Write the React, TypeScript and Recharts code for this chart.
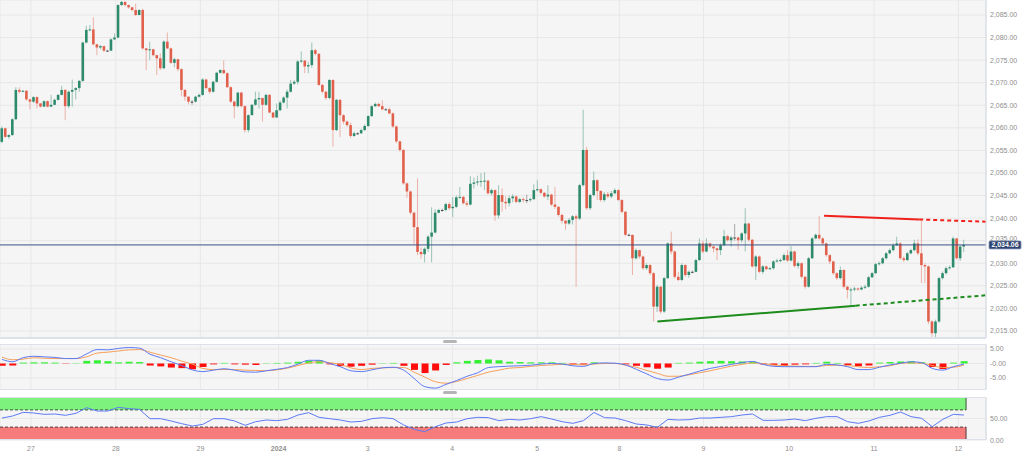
import {
  Bar,
  CartesianGrid,
  Cell,
  ComposedChart,
  Line,
  ReferenceArea,
  ReferenceLine,
  XAxis,
  YAxis,
} from 'recharts';

// hourly gold candles, 26 Dec 2023 -> 12 Jan 2024 (open of each bar = previous close)
const firstOpen = 2056.9;
const closes = [
  2059.9, 2058.0, 2058.4, 2061.9, 2068.4, 2068.0, 2068.2, 2066.3, 2065.8, 2066.8,
  2065.4, 2064.7, 2065.9, 2064.7, 2065.1, 2066.2, 2067.3, 2068.4, 2064.8, 2068.0,
  2068.4, 2068.8, 2070.4, 2078.9, 2081.7, 2081.8, 2078.5, 2077.8, 2078.1, 2077.1,
  2077.1, 2079.6, 2080.0, 2087.2, 2087.9, 2087.2, 2086.7, 2086.1, 2085.0, 2086.1,
  2077.6, 2077.2, 2077.4, 2076.1, 2075.4, 2073.2, 2079.1, 2077.6, 2074.4, 2075.2,
  2073.0, 2068.4, 2066.9, 2065.8, 2065.8, 2066.9, 2067.3, 2070.7, 2068.8, 2068.0,
  2070.2, 2072.2, 2072.8, 2072.1, 2069.0, 2065.8, 2064.8, 2067.8, 2064.8, 2059.5,
  2062.8, 2065.1, 2066.3, 2066.6, 2065.1, 2067.3, 2063.4, 2062.3, 2063.9, 2065.6,
  2066.7, 2068.0, 2069.8, 2070.2, 2074.7, 2074.9, 2073.6, 2073.9, 2077.2, 2076.4,
  2069.5, 2068.0, 2066.6, 2070.6, 2059.5, 2066.2, 2062.8, 2061.4, 2060.6, 2058.2,
  2058.8, 2058.8, 2059.5, 2060.4, 2062.6, 2064.8, 2065.3, 2064.8, 2064.1, 2064.1,
  2063.2, 2060.3, 2057.0, 2055.1, 2047.7, 2045.9, 2041.2, 2038.0, 2032.5, 2032.0,
  2033.2, 2035.9, 2036.8, 2041.2, 2041.8, 2041.8, 2043.1, 2042.2, 2042.5, 2044.6,
  2044.7, 2043.3, 2043.0, 2047.6, 2047.9, 2048.1, 2048.2, 2048.3, 2045.5, 2046.2,
  2040.6, 2045.1, 2043.6, 2043.3, 2044.4, 2044.8, 2043.6, 2044.2, 2044.0, 2044.0,
  2044.2, 2046.2, 2046.4, 2045.6, 2044.8, 2045.2, 2043.0, 2042.5, 2040.7, 2039.4,
  2038.8, 2039.6, 2040.4, 2039.9, 2047.3, 2055.1, 2042.2, 2045.1, 2048.4, 2046.0,
  2044.0, 2045.3, 2044.8, 2045.5, 2046.2, 2044.0, 2041.4, 2036.3, 2036.3, 2031.1,
  2032.9, 2031.5, 2028.9, 2029.6, 2027.8, 2020.4, 2024.8, 2019.3, 2026.7, 2034.4,
  2032.6, 2027.0, 2026.3, 2029.6, 2027.4, 2028.1, 2028.1, 2030.7, 2034.4, 2032.6,
  2034.4, 2033.7, 2033.3, 2032.9, 2034.0, 2036.0, 2035.1, 2035.7, 2035.7, 2035.1,
  2036.6, 2038.8, 2035.2, 2029.3, 2031.5, 2028.1, 2029.3, 2028.7, 2028.9, 2030.4,
  2030.6, 2030.7, 2031.8, 2030.6, 2032.6, 2029.4, 2030.0, 2027.0, 2024.8, 2031.1,
  2035.5, 2036.3, 2035.5, 2034.4, 2031.8, 2030.4, 2027.8, 2026.7, 2028.5, 2024.8,
  2024.1, 2024.2, 2024.4, 2024.2, 2024.6, 2024.8, 2026.9, 2027.8, 2029.8, 2030.0,
  2031.1, 2032.2, 2032.9, 2034.0, 2034.4, 2031.1, 2030.7, 2032.2, 2032.9, 2034.4,
  2032.2, 2029.6, 2029.3, 2017.1, 2014.5, 2017.1, 2026.7, 2027.8, 2028.9, 2029.1,
  2035.5, 2031.1, 2033.7, 2034.06,
];
const highs = [
  2060.3, 2060.0, 2058.6, 2062.1, 2069.0, 2069.0, 2068.4, 2068.4, 2066.4, 2067.0,
  2067.0, 2065.5, 2066.1, 2066.1, 2067.3, 2066.5, 2067.5, 2069.3, 2068.6, 2068.3,
  2070.7, 2069.0, 2070.6, 2079.1, 2082.6, 2082.8, 2084.5, 2078.6, 2078.4, 2078.2,
  2077.3, 2079.8, 2080.9, 2087.4, 2088.1, 2088.0, 2087.3, 2086.8, 2087.5, 2086.3,
  2086.4, 2077.7, 2079.1, 2077.5, 2076.2, 2076.5, 2079.4, 2081.1, 2077.8, 2075.5,
  2075.3, 2073.2, 2068.6, 2067.0, 2066.2, 2067.1, 2067.6, 2071.0, 2070.9, 2069.0,
  2070.4, 2072.4, 2073.0, 2074.9, 2072.3, 2069.2, 2066.0, 2068.0, 2068.0, 2065.0,
  2063.0, 2065.3, 2068.0, 2068.0, 2066.7, 2067.6, 2067.5, 2062.6, 2065.4, 2066.0,
  2067.0, 2068.5, 2070.6, 2070.6, 2075.0, 2076.9, 2075.0, 2074.6, 2078.9, 2077.5,
  2076.6, 2069.7, 2068.2, 2070.8, 2070.8, 2066.4, 2066.4, 2063.0, 2061.6, 2061.2,
  2059.2, 2059.0, 2059.8, 2060.8, 2062.8, 2065.0, 2065.6, 2065.6, 2066.1, 2064.4,
  2064.5, 2063.4, 2060.5, 2057.2, 2055.3, 2047.9, 2046.1, 2041.4, 2048.8, 2033.5,
  2033.5, 2036.2, 2042.4, 2042.0, 2042.1, 2042.1, 2043.4, 2043.5, 2044.7, 2045.0,
  2046.9, 2044.9, 2043.8, 2049.3, 2049.0, 2049.4, 2050.0, 2050.2, 2048.4, 2046.5,
  2046.4, 2047.3, 2046.6, 2044.8, 2045.0, 2045.3, 2045.0, 2044.5, 2044.6, 2045.2,
  2044.5, 2047.5, 2048.4, 2046.6, 2045.8, 2047.3, 2045.4, 2046.9, 2042.7, 2041.0,
  2039.6, 2040.0, 2040.7, 2040.8, 2047.6, 2064.0, 2055.8, 2045.4, 2050.3, 2048.6,
  2046.2, 2045.8, 2045.8, 2046.0, 2046.6, 2046.4, 2044.2, 2041.6, 2036.6, 2036.0,
  2033.3, 2033.0, 2031.7, 2030.0, 2029.8, 2028.0, 2025.2, 2025.0, 2027.0, 2034.6,
  2037.0, 2032.8, 2028.1, 2030.0, 2029.8, 2028.4, 2028.4, 2031.0, 2035.5, 2035.0,
  2035.5, 2034.6, 2033.9, 2033.5, 2034.4, 2037.4, 2036.3, 2036.0, 2038.7, 2035.9,
  2036.9, 2042.2, 2039.0, 2035.4, 2031.8, 2031.7, 2029.6, 2029.5, 2029.2, 2030.7,
  2031.0, 2031.1, 2032.2, 2032.9, 2033.8, 2032.8, 2030.4, 2030.2, 2027.2, 2031.4,
  2035.8, 2036.6, 2040.5, 2035.7, 2034.6, 2032.0, 2030.6, 2028.0, 2029.3, 2028.7,
  2025.0, 2024.6, 2024.8, 2024.6, 2024.9, 2025.2, 2027.2, 2028.1, 2030.1, 2030.4,
  2031.4, 2032.5, 2033.3, 2034.4, 2035.9, 2034.6, 2031.5, 2032.5, 2033.2, 2035.2,
  2035.3, 2039.7, 2030.0, 2029.5, 2017.3, 2017.5, 2027.0, 2028.2, 2029.3, 2029.5,
  2035.9, 2035.6, 2034.0, 2035.2,
];
const lows = [
  2056.6, 2057.8, 2057.6, 2058.2, 2061.7, 2067.6, 2067.9, 2066.0, 2064.1, 2065.5,
  2064.3, 2064.5, 2064.6, 2064.5, 2064.6, 2065.0, 2066.0, 2067.2, 2061.7, 2064.3,
  2064.7, 2066.3, 2068.0, 2070.2, 2078.7, 2081.4, 2078.3, 2076.1, 2077.4, 2076.8,
  2076.9, 2077.0, 2079.4, 2079.8, 2087.0, 2086.9, 2086.4, 2085.8, 2084.8, 2084.9,
  2077.3, 2072.8, 2075.0, 2075.8, 2071.7, 2072.8, 2073.0, 2077.4, 2074.2, 2073.4,
  2072.5, 2067.0, 2066.0, 2065.2, 2065.1, 2065.6, 2066.7, 2067.1, 2068.5, 2067.5,
  2067.8, 2070.0, 2072.0, 2071.9, 2068.8, 2065.5, 2062.1, 2064.5, 2064.5, 2058.9,
  2059.0, 2062.8, 2064.9, 2064.3, 2061.4, 2064.9, 2063.2, 2062.1, 2062.2, 2063.7,
  2065.4, 2064.3, 2067.8, 2069.5, 2069.6, 2074.4, 2072.1, 2072.1, 2073.3, 2076.0,
  2069.3, 2067.6, 2066.2, 2066.3, 2055.8, 2059.3, 2058.0, 2060.8, 2060.2, 2057.8,
  2058.0, 2058.4, 2058.6, 2059.3, 2060.2, 2062.4, 2064.6, 2064.6, 2063.9, 2063.9,
  2063.0, 2060.0, 2056.6, 2054.7, 2047.4, 2044.5, 2040.8, 2034.2, 2031.8, 2031.0,
  2030.2, 2032.5, 2030.2, 2036.6, 2041.0, 2041.4, 2041.5, 2041.8, 2040.2, 2042.2,
  2044.3, 2043.0, 2042.6, 2042.8, 2046.6, 2047.2, 2046.9, 2046.2, 2045.2, 2045.0,
  2039.4, 2039.9, 2041.4, 2042.0, 2042.6, 2043.5, 2043.3, 2043.3, 2043.5, 2043.3,
  2043.6, 2044.0, 2045.9, 2045.3, 2044.5, 2044.0, 2042.7, 2042.0, 2040.3, 2038.8,
  2037.4, 2038.5, 2038.6, 2024.8, 2039.6, 2047.0, 2041.8, 2041.8, 2044.8, 2044.0,
  2043.6, 2043.6, 2044.4, 2044.4, 2045.3, 2043.8, 2041.0, 2036.0, 2036.0, 2027.4,
  2030.8, 2031.0, 2028.5, 2028.5, 2027.4, 2017.1, 2019.2, 2018.8, 2019.0, 2026.5,
  2032.0, 2026.6, 2026.0, 2026.0, 2027.0, 2026.8, 2027.8, 2028.0, 2030.5, 2032.2,
  2032.4, 2033.3, 2032.4, 2030.7, 2031.8, 2033.8, 2034.8, 2033.7, 2035.0, 2033.0,
  2034.6, 2032.6, 2034.8, 2029.0, 2026.3, 2027.8, 2027.6, 2028.4, 2028.5, 2028.6,
  2030.2, 2030.2, 2030.5, 2030.3, 2030.4, 2029.0, 2028.8, 2026.6, 2024.4, 2024.6,
  2031.0, 2035.3, 2035.2, 2034.0, 2031.4, 2029.8, 2027.4, 2026.3, 2026.4, 2024.4,
  2022.2, 2020.7, 2023.8, 2023.9, 2024.0, 2024.3, 2024.6, 2026.7, 2027.6, 2029.5,
  2029.8, 2030.8, 2032.0, 2032.6, 2033.8, 2030.8, 2030.3, 2030.5, 2032.0, 2032.6,
  2031.8, 2025.6, 2025.6, 2016.5, 2013.7, 2013.5, 2016.8, 2026.4, 2027.5, 2028.6,
  2029.0, 2030.8, 2030.5, 2032.5,
];

// day boundaries (in candle units) and their labels
const dayStarts = [8.2, 32.3, 56.3, 78.5, 103.8, 127.8, 151.9, 175.2, 199.1, 223.4, 247.5, 271.4];
const dayLabels = ['27', '28', '29', '2024', '3', '4', '5', '8', '9', '10', '11', '12'];

const priceTicks = [2015, 2020, 2025, 2030, 2035, 2040, 2045, 2050, 2055, 2060, 2065, 2070, 2075, 2080, 2085];
const lastPrice = 2034.06;

// hand-drawn trend lines: solid part, then dotted projection
const supportX = [186, 242.3, 279.2];
const supportY = [2017.1, 2020.6, 2022.9];
const resistX = [233.3, 260.3, 279.2];
const resistY = [2040.5, 2039.7, 2039.2];

// indicators, one reading every 3rd candle
const IND_STEP = 3;
const macdLine = [
  1.4, 0.6, 2.0, 2.5, 2.3, 2.1, 1.7, 1.7, 3.3, 4.8, 4.7, 5.2, 5.5, 5.3, 3.2, 2.0, 0.6, -0.7, -2.2, -2.8,
  -2.3, -1.8, -2.3, -2.9, -3.0, -2.5, -2.0, -1.4, -0.2, 1.1, 1.1, 0, -1.1,
  -2.5, -2.8, -2.2, -1.5, -1.3, -2.3, -5.2, -8.0, -8.5, -7.2, -5.9, -4.4, -3.2, -1.4, -1.1, -0.9, -0.8,
  -0.6, -0.2, 0, -0.2, -0.8, -1.0, 0, 0.2, 0.1, -0.5, -2.0, -3.6, -5.2, -5.7,
  -4.7, -3.7, -2.6, -1.7, -1.0, -0.3, 0.3, 0.7, -0.3, -1.0, -1.1, -1.1, -1.1, -1.1, -0.3, -0.5,
  -1.1, -2.1, -2.1, -1.3, -0.5, 0.1, 0.6, 0.3, -1.7, -2.3, -1.1, -0.2,
];
const signalLine = [
  2.2, 1.3, 1.5, 2.0, 1.8, 1.7, 1.7, 1.7, 2.3, 3.6, 3.9, 4.3, 4.7, 4.8, 3.9, 2.9, 2.0, 0.8, -0.2, -1.7,
  -2.1, -2.1, -2.1, -2.3, -2.4, -2.5, -2.2, -1.6, -0.7, 0.2, 0.6, 0.3, -0.3,
  -1.5, -2.1, -1.7, -1.5, -1.4, -1.4, -3.0, -4.7, -6.3, -6.8, -6.2, -5.2, -4.1, -3.0, -2.3, -1.6, -1.4,
  -1.0, -0.7, -0.5, -0.3, -0.3, -0.5, -0.2, 0, 0, -0.6, -1.3, -2.4, -3.4, -4.4,
  -4.4, -3.9, -3.2, -2.5, -1.7, -0.9, -0.3, 0.2, -0.1, -0.5, -0.8, -0.9, -1.0, -1.0, -0.7, -0.6,
  -0.7, -1.1, -1.4, -1.1, -0.8, 0, 0.2, 0.1, -0.7, -1.4, -1.3, -0.6,
];
const histogram = [
  -0.8, -0.7, 0.3, 0.4, 0.4, 0.3, -0.1, 0.1, 0.9, 1.1, 0.8, 0.4, 0.6, 0.5, -0.7, -1.0, -1.4, -1.6, -2.0, -1.2,
  -0.3, 0.2, -0.3, -0.4, -0.5, 0.1, 0.2, 0.3, 0.6, 0.9, 1.1, -0.3, -0.9,
  -1.1, -0.8, -0.4, 0.1, 0.2, -0.8, -2.2, -3.3, -2.4, -0.5, 0.4, 0.9, 1.2, 1.4, 1.1, 0.6, 0.5,
  0.4, 0.4, 0.4, 0.2, -0.4, -0.4, 0.4, 0.2, 0.1, -0.3, -0.8, -1.3, -1.8, -1.4,
  0.2, 0.3, 0.6, 0.8, 0.9, 0.8, 0.7, 0.6, -0.3, -0.6, -0.8, -0.4, -0.3, 0.2, 0.6, 0.2,
  -0.5, -0.9, -0.7, 0.3, 0.5, 0.7, 0.8, 0.4, -1.2, -1.9, 0.3, 0.8,
];
const rsiLine = [
  51.1, 55.8, 64.3, 62.8, 59.7, 60.5, 57.4, 62, 75.2, 67.4, 67.4, 76, 72.9, 71.3, 49.6, 49.6, 44.2, 38, 32.5, 36.4,
  49.6, 49.6, 44.2, 34.1, 42.6, 46.5, 45, 48, 58.1, 63.6, 52.7, 49.6, 46.5,
  41.8, 43.4, 49.6, 51.9, 49.6, 34.9, 24.8, 19.4, 31, 39.5, 41.8, 49.6, 52.7, 52, 45, 48, 46.5,
  49.6, 54.3, 48.8, 42.6, 38.7, 45, 64, 52, 51.1, 45, 37.2, 34.9, 29.4, 48,
  46.5, 47.3, 51.1, 51.1, 52.7, 54.3, 58.1, 60.5, 45.7, 45.7, 46.5, 48.8, 45, 50.4, 54.3, 54.3,
  42.6, 38.7, 44.2, 52.7, 57.4, 65.1, 54.3, 50.4, 31, 48, 59.7, 58.1,
];

const macdTicks = [5, 0, -5];
const macdTickLabels = ['5.00', '-0.00', '-5.00'];
const rsiTicks = [50, 0];
const rsiTickLabels = ['50.00', '0.00'];

const W = 1024;
const PLOT_W = 986;
const AXIS_W = W - PLOT_W;
const X_DOMAIN: [number, number] = [-0.57, 279.26];
const FONT = "'Liberation Sans', Arial, sans-serif";

const UP = '#2d8a6c';
const DOWN = '#e1604c';
const BG = '#f5f5f5';
const GRID = '#e7e7e7';
const BORDER = '#dde2ea';

const candles = closes.map((c, i) => {
  const o = i === 0 ? firstOpen : closes[i - 1];
  return { i, o, c, range: [Math.min(lows[i], o, c), Math.max(highs[i], o, c)] };
});

const indicators = macdLine.map((m, k) => ({
  i: k * IND_STEP,
  macd: m,
  signal: signalLine[k],
  hist: histogram[k],
  rsi: rsiLine[k],
}));

const lastIndex = candles.length - 1;

const fmtPrice = (v: number) =>
  v.toLocaleString('en-US', { minimumFractionDigits: 2, maximumFractionDigits: 2 });

function CandleShape(props: any) {
  const { x, y, width, height, payload } = props;
  if (!payload) return null;
  const top = Math.min(y, y + height);
  const span = Math.abs(height);
  const [lo, hi] = payload.range;
  const ppu = hi > lo ? span / (hi - lo) : 0;
  const yO = top + (hi - payload.o) * ppu;
  const yC = top + (hi - payload.c) * ppu;
  const flat = Math.abs(payload.c - payload.o) < 0.05;
  const up = payload.c >= payload.o;
  const body = flat ? '#4a4a4a' : up ? UP : DOWN;
  const cx = x + width / 2;
  return (
    <g>
      <line x1={cx} x2={cx} y1={top} y2={top + span} stroke={body} strokeOpacity={0.45} strokeWidth={1} />
      <rect x={cx - 1.3} y={Math.min(yO, yC)} width={2.6} height={Math.max(Math.abs(yC - yO), 1)} fill={body} />
    </g>
  );
}

function ValueTick(props: any) {
  const { x, y, payload, ticks, labels } = props;
  const text = labels ? labels[ticks.indexOf(payload.value)] : fmtPrice(payload.value);
  // the live price tag sits over this level, as in the original
  if (!labels && payload.value === 2035) {
    return (
      <text x={x} y={y - 2} dy={2.5} fontSize={7} fill="#8e8e8e" fontFamily={FONT}>
        {text}
      </text>
    );
  }
  return (
    <text x={x} y={y} dy={2.5} fontSize={7} fill="#8e8e8e" fontFamily={FONT}>
      {text}
    </text>
  );
}

function DayTick(props: any) {
  const { x, y, payload } = props;
  const label = dayLabels[dayStarts.indexOf(payload.value)];
  return (
    <text
      x={x}
      y={y}
      dy={11}
      textAnchor="middle"
      fontSize={7}
      fill="#8e8e8e"
      fontWeight={label === '2024' ? 'bold' : 'normal'}
      fontFamily={FONT}
    >
      {label}
    </text>
  );
}

function PriceTag(props: any) {
  const vb = props.viewBox;
  if (!vb) return null;
  const x = vb.x + vb.width + 3;
  return (
    <g>
      <rect x={x} y={vb.y - 4} width={32} height={8} fill="#2f4470" stroke="#8193b8" strokeWidth={0.8} rx={1} />
      <text x={x + 16} y={vb.y} dy={2.5} textAnchor="middle" fontSize={7} fontWeight="bold" fill="#fff" fontFamily={FONT}>
        {fmtPrice(lastPrice)}
      </text>
    </g>
  );
}

function rightAxis(domain: [number, number], ticks: number[], labels?: string[]) {
  return (
    <YAxis
      orientation="right"
      width={AXIS_W}
      domain={domain}
      ticks={ticks}
      allowDataOverflow
      interval={0}
      axisLine={{ stroke: '#d3d9e3' }}
      tickLine={false}
      tickSize={2}
      tickMargin={2}
      tick={(p: any) => <ValueTick {...p} ticks={ticks} labels={labels} />}
    />
  );
}

const border = (top: number, height: number) => (
  <div
    style={{
      position: 'absolute',
      left: 0,
      top,
      width: PLOT_W,
      height,
      borderTop: `1px solid ${BORDER}`,
      borderBottom: `1px solid ${BORDER}`,
      boxSizing: 'border-box',
      pointerEvents: 'none',
    }}
  />
);

const handle = (top: number) => (
  <div style={{ position: 'absolute', left: 443, top, width: 14, height: 3, background: '#b5b5b5', borderRadius: 1.5 }} />
);

export default function App() {
  const zero = { top: 0, right: 0, bottom: 0, left: 0 };
  return (
    <div style={{ position: 'absolute', left: 0, top: 0, width: W, height: 453, background: '#fff', fontFamily: FONT }}>
      <div style={{ position: 'absolute', left: 0, top: 0 }}>
        <ComposedChart width={W} height={338} data={candles} margin={zero}>
          <CartesianGrid fill={BG} stroke={GRID} />
          <XAxis dataKey="i" type="number" domain={X_DOMAIN} ticks={dayStarts} interval={0} hide allowDataOverflow />
          {rightAxis([2013.44, 2088.32], priceTicks)}
          <ReferenceLine y={lastPrice} stroke="#3a5384" strokeWidth={1} label={(p: any) => <PriceTag {...p} />} />
          <Bar dataKey="range" barSize={3} shape={CandleShape} isAnimationActive={false} />
          <ReferenceLine
            segment={[{ x: supportX[0], y: supportY[0] }, { x: supportX[1], y: supportY[1] }]}
            stroke="#1d8c1d"
            strokeWidth={2}
          />
          <ReferenceLine
            segment={[{ x: supportX[1], y: supportY[1] }, { x: supportX[2], y: supportY[2] }]}
            stroke="#1d8c1d"
            strokeWidth={2}
            strokeDasharray="4 3"
          />
          <ReferenceLine
            segment={[{ x: resistX[0], y: resistY[0] }, { x: resistX[1], y: resistY[1] }]}
            stroke="#f0201c"
            strokeWidth={2}
          />
          <ReferenceLine
            segment={[{ x: resistX[1], y: resistY[1] }, { x: resistX[2], y: resistY[2] }]}
            stroke="#f0201c"
            strokeWidth={2}
            strokeDasharray="4 3"
          />
        </ComposedChart>
      </div>

      <div style={{ position: 'absolute', left: 0, top: 344 }}>
        <ComposedChart width={W} height={46} data={indicators} margin={zero}>
          <CartesianGrid fill={BG} stroke={GRID} />
          <XAxis dataKey="i" type="number" domain={X_DOMAIN} ticks={dayStarts} interval={0} hide allowDataOverflow />
          {rightAxis([-9.14, 6.72], macdTicks, macdTickLabels)}
          <Bar dataKey="hist" barSize={7} isAnimationActive={false}>
            {indicators.map((d) => (
              <Cell key={d.i} fill={d.hist >= 0 ? '#35f035' : '#ff0d0d'} />
            ))}
          </Bar>
          <Line dataKey="signal" type="monotone" stroke="#f5a05a" strokeWidth={1} dot={false} isAnimationActive={false} />
          <Line dataKey="macd" type="monotone" stroke="#5d7af5" strokeWidth={1} dot={false} isAnimationActive={false} />
        </ComposedChart>
      </div>

      <div style={{ position: 'absolute', left: 0, top: 397 }}>
        <ComposedChart width={W} height={56} data={indicators} margin={zero}>
          <CartesianGrid fill={BG} stroke={GRID} />
          <XAxis
            dataKey="i"
            type="number"
            domain={X_DOMAIN}
            ticks={dayStarts}
            interval={0}
            height={13}
            axisLine={false}
            tickLine={false}
            tickSize={0}
            tickMargin={0}
            tick={(p: any) => <DayTick {...p} />}
            allowDataOverflow
          />
          {rightAxis([0, 100], rsiTicks, rsiTickLabels)}
          <ReferenceArea x1={X_DOMAIN[0]} x2={lastIndex + 0.6} y1={70} y2={100} fill="#7df37d" fillOpacity={1} />
          <ReferenceArea x1={X_DOMAIN[0]} x2={lastIndex + 0.6} y1={0} y2={30} fill="#f67c7c" fillOpacity={1} />
          <ReferenceLine
            segment={[{ x: X_DOMAIN[0], y: 70 }, { x: lastIndex + 0.6, y: 70 }]}
            stroke="#3e4e3e"
            strokeDasharray="3 2"
          />
          <ReferenceLine
            segment={[{ x: X_DOMAIN[0], y: 30 }, { x: lastIndex + 0.6, y: 30 }]}
            stroke="#4e3e3e"
            strokeDasharray="3 2"
          />
          <ReferenceLine segment={[{ x: lastIndex + 0.6, y: 70 }, { x: lastIndex + 0.6, y: 100 }]} stroke="#3e4e3e" />
          <ReferenceLine segment={[{ x: lastIndex + 0.6, y: 0 }, { x: lastIndex + 0.6, y: 30 }]} stroke="#4e3e3e" />
          <Line dataKey="rsi" type="linear" stroke="#5d7af5" strokeWidth={1} dot={false} isAnimationActive={false} />
        </ComposedChart>
      </div>

      {border(337, 1)}
      {border(344, 46)}
      {border(397, 43)}
      {handle(340)}
      {handle(391)}
    </div>
  );
}
